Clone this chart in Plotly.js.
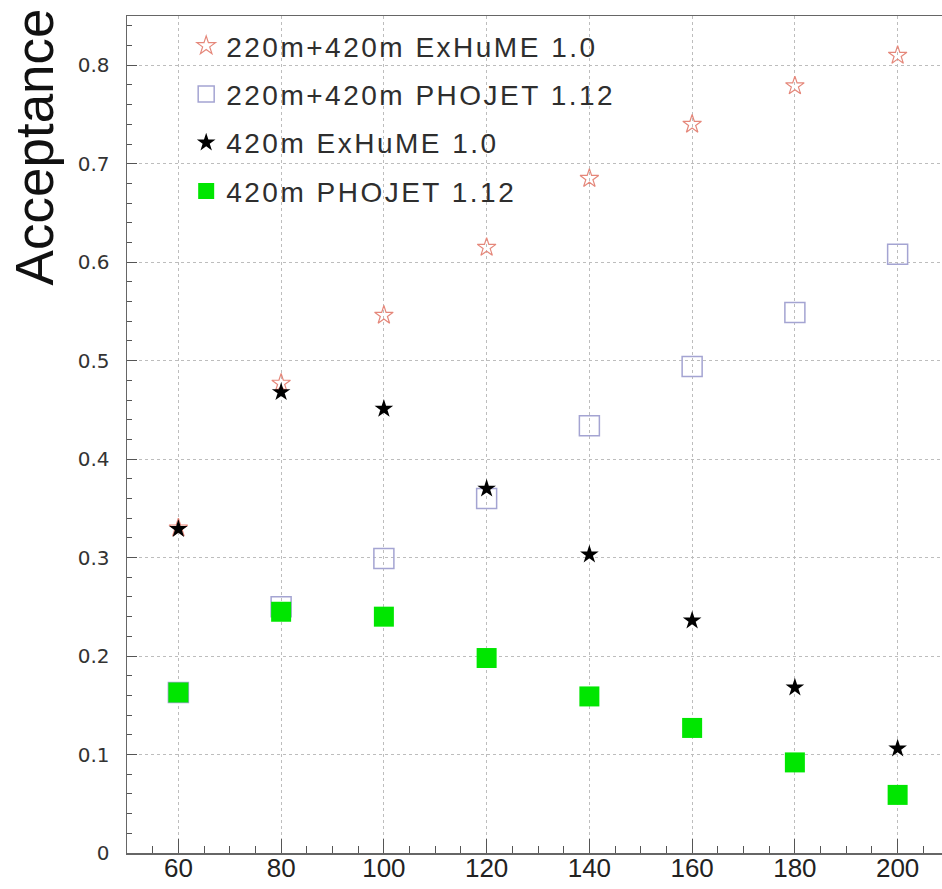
<!DOCTYPE html>
<html>
<head>
<meta charset="utf-8">
<script src="https://cdn.plot.ly/plotly-3.0.1.min.js"></script>
<style>
html,body{margin:0;padding:0;overflow:hidden;background:#fff;}
#chart{width:952px;height:889px;}
.legendtext{letter-spacing:2.5px;}
</style>
</head>
<body>
<div id="chart"></div>
<script>
// Higgs mass (GeV)
const masses = [60, 80, 100, 120, 140, 160, 180, 200];
// Series values (acceptance)
const exhume_220_420 = [0.330, 0.477, 0.546, 0.615, 0.685, 0.740, 0.779, 0.810];
const phojet_220_420 = [0.163, 0.250, 0.299, 0.360, 0.434, 0.494, 0.549, 0.608];
const exhume_420 = [0.329, 0.468, 0.451, 0.370, 0.303, 0.236, 0.168, 0.106];
const phojet_420 = [0.163, 0.245, 0.240, 0.198, 0.159, 0.127, 0.092, 0.059];
const seriesNames = ["220m+420m ExHuME 1.0", "220m+420m PHOJET 1.12", "420m ExHuME 1.0", "420m PHOJET 1.12"];
const yTickVals = [0, 0.1, 0.2, 0.3, 0.4, 0.5, 0.6, 0.7, 0.8];
const yTickText = ["0", "0.1", "0.2", "0.3", "0.4", "0.5", "0.6", "0.7", "0.8"];
const xTickVals = [60, 80, 100, 120, 140, 160, 180, 200];
const xTickText = ["60", "80", "100", "120", "140", "160", "180", "200"];

const traces = [
  {x: masses, y: exhume_220_420, name: seriesNames[0], legendgroup: "a", type: "scatter", mode: "markers",
   marker: {symbol: "star-open", size: 14, color: "#e5877a", line: {width: 1.2, color: "#e5877a"}}},
  {x: masses, y: phojet_220_420, name: seriesNames[1], legendgroup: "b", type: "scatter", mode: "markers",
   marker: {symbol: "square-open", size: 20, color: "#a4a4d2", line: {width: 1.5, color: "#a4a4d2"}}},
  {x: masses, y: exhume_420, name: seriesNames[2], legendgroup: "c", type: "scatter", mode: "markers",
   marker: {symbol: "star", size: 14, color: "#000000", line: {width: 0}}},
  {x: masses, y: phojet_420, name: seriesNames[3], legendgroup: "d", type: "scatter", mode: "markers",
   marker: {symbol: "square", size: 20, color: "#00e600", line: {width: 0}}}
];

const layout = {
  width: 952, height: 889,
  margin: {l: 127, r: 3, t: 16, b: 36},
  paper_bgcolor: "#ffffff", plot_bgcolor: "#ffffff",
  showlegend: true,
  legend: {
    x: 0.072, y: 0.994, xanchor: "left", yanchor: "top",
    bgcolor: "rgba(0,0,0,0)", borderwidth: 0,
    traceorder: "grouped", tracegroupgap: 9,
    font: {family: "Liberation Sans, Arial, sans-serif", size: 28, color: "#2e2e2e"}
  },
  xaxis: {
    range: [50, 210], tickmode: "array", tickvals: xTickVals, ticktext: xTickText,
    ticks: "inside", ticklen: 14, tickcolor: "#555", tickwidth: 1,
    showline: true, linecolor: "#666", linewidth: 1.5, mirror: true,
    showgrid: true, gridcolor: "#bdbdbd", griddash: "dot", gridwidth: 1,
    zeroline: false,
    ticklabelstandoff: -9,
    tickfont: {family: "Liberation Sans, Arial, sans-serif", size: 26, color: "#222"},
    minor: {dtick: 5, ticks: "inside", ticklen: 7, tickcolor: "#555", showgrid: false}
  },
  yaxis: {
    range: [0, 0.85], tickmode: "array", tickvals: yTickVals, ticktext: yTickText,
    ticks: "inside", ticklen: 10, tickcolor: "#555", tickwidth: 1,
    showline: true, linecolor: "#666", linewidth: 1.5, mirror: true,
    showgrid: true, gridcolor: "#bdbdbd", griddash: "dot", gridwidth: 1,
    zeroline: false,
    ticklabelstandoff: 12,
    tickfont: {family: "DejaVu Sans, sans-serif", size: 20, color: "#333"},
    minor: {dtick: 0.02, ticks: "inside", ticklen: 5, tickcolor: "#555", showgrid: false}
  },
  annotations: [{
    text: "Acceptance", xref: "paper", yref: "paper",
    x: -0.112, y: 1.012, xanchor: "center", yanchor: "top", textangle: -90,
    showarrow: false,
    font: {family: "Liberation Sans, Arial, sans-serif", size: 53, color: "#111"}
  }]
};

Plotly.newPlot("chart", traces, layout, {displayModeBar: false, staticPlot: true});
</script>
</body>
</html>
